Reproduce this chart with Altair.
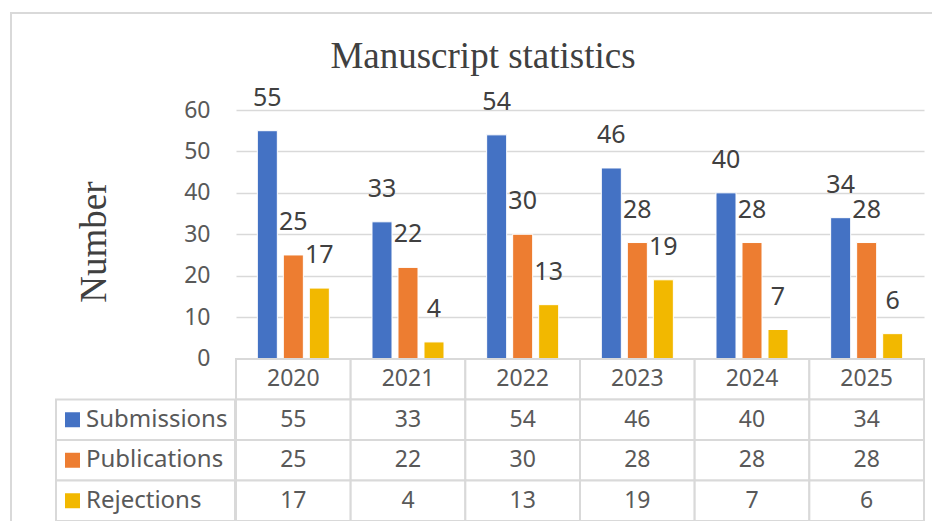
import altair as alt
import pandas as pd

# ---- data ----
years = ["2020", "2021", "2022", "2023", "2024", "2025"]
series = ["Submissions", "Publications", "Rejections"]
submissions = [55, 33, 54, 46, 40, 34]
publications = [25, 22, 30, 28, 28, 28]
rejections = [17, 4, 13, 19, 7, 6]
y_ticks = [0, 10, 20, 30, 40, 50, 60]
title_text = "Manuscript statistics"
y_title = "Number"

colors = ["#4472C4", "#ED7D31", "#F2B800"]
SANS = "Noto Sans"
SERIF = "Liberation Serif"
GRID = "#d9d9d9"
TXT = "#595959"

values = {"Submissions": submissions, "Publications": publications, "Rejections": rejections}
recs = []
for s in series:
    for yr, v in zip(years, values[s]):
        recs.append({"year": yr, "series": s, "value": v, "row": s, "label": str(v)})
df = pd.DataFrame(recs)
header_df = pd.DataFrame({"year": years, "row": ["header"] * len(years), "label": years})
legend_df = pd.DataFrame({"series": series, "row": series, "label": series})
one = pd.DataFrame({"t": [0]})

W, H = 688, 248.5

x_enc = alt.X("year:N", scale=alt.Scale(domain=years, paddingInner=0, paddingOuter=0), axis=None)
xoff = alt.XOffset("series:N", scale=alt.Scale(domain=series, paddingInner=0.23, paddingOuter=0.82))
color = alt.Color("series:N", scale=alt.Scale(domain=series, range=colors), legend=None)
yscale = alt.Scale(domain=[0, 60], nice=False, zero=True)
y_enc = alt.Y(
    "value:Q",
    scale=yscale,
    axis=alt.Axis(
        values=y_ticks, title=None, grid=True, domain=False, ticks=False,
        labelPadding=26, labelFont=SANS, labelFontSize=23, labelColor=TXT,
        gridColor=GRID, gridWidth=1.5,
    ),
)

bars = alt.Chart(df).mark_bar(stroke="white", strokeWidth=1).encode(
    x=x_enc, xOffset=xoff, y=y_enc, color=color
)
bar_labels = alt.Chart(df).mark_text(
    dy=-33, baseline="middle", fontSize=25, font=SANS, color="#404040"
).encode(x=x_enc, xOffset=xoff, y=y_enc, text="label:N")

top = alt.layer(bars, bar_labels)

row_y = alt.Y(
    "row:N",
    scale=alt.Scale(domain=["header"] + series, range=[249, 411], paddingInner=0, paddingOuter=0),
    axis=None,
)
cell_style = dict(fill="white", stroke=GRID, strokeWidth=2)

header_cells = alt.Chart(header_df).mark_rect(**cell_style).encode(x=x_enc, y=row_y)
data_cells = alt.Chart(df).mark_rect(**cell_style).encode(x=x_enc, y=row_y)
label_cells = alt.Chart(legend_df).mark_rect(**cell_style).encode(
    x=alt.value(-180), x2=alt.value(-1), y=row_y
)
header_text = alt.Chart(header_df).mark_text(
    fontSize=23, font=SANS, color=TXT, baseline="middle"
).encode(x=x_enc, y=row_y, text="label:N")
data_text = alt.Chart(df).mark_text(
    fontSize=23, font=SANS, color=TXT, baseline="middle"
).encode(x=x_enc, y=row_y, text="label:N")
legend_sq = alt.Chart(legend_df).mark_square(size=225, opacity=1, shape="square").encode(
    x=alt.value(-163.5), y=row_y, color=color
)
legend_text = alt.Chart(legend_df).mark_text(
    fontSize=24, font=SANS, color=TXT, baseline="middle", align="left"
).encode(x=alt.value(-150), y=row_y, text="label:N")

table = alt.layer(header_cells, data_cells, label_cells, header_text, data_text, legend_sq, legend_text)

border = alt.Chart(one).mark_rect(fill="white", fillOpacity=0, stroke=GRID, strokeWidth=2).encode(
    x=alt.value(-225), x2=alt.value(720), y=alt.value(-97), y2=alt.value(430)
)
title = alt.Chart(one).mark_text(
    text=title_text, font=SERIF, fontSize=37, color="#404040", baseline="alphabetic"
).encode(x=alt.value(247), y=alt.value(-42))
ytitle = alt.Chart(one).mark_text(
    text=y_title, font=SERIF, fontSize=37, color="#404040", angle=270, baseline="middle"
).encode(x=alt.value(-141), y=alt.value(132))

chart = alt.layer(border, title, ytitle, top, table).resolve_scale(y="independent").properties(
    width=W, height=H,
    autosize=alt.AutoSizeParams(type="none"),
    padding={"left": 228, "top": 102, "right": 8, "bottom": 162},
    background="white",
).configure_view(stroke=None)

chart.save("out.html", embed_options={"renderer": "svg", "actions": False})
